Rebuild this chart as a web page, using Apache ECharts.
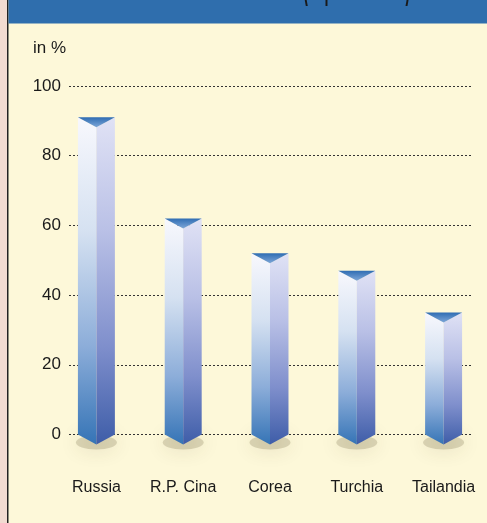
<!DOCTYPE html>
<html>
<head>
    <meta charset="UTF-8">
    <title>in %</title>
    <script src="https://cdn.jsdelivr.net/npm/echarts@6/dist/echarts.min.js"></script>
    <style>
        html, body { margin: 0; padding: 0; background: #fdf8d9; }
        #main { width: 487px; height: 523px; }
    </style>
</head>
<body>
<div id="main"></div>
<script>
    // dati
    var paesi = ['Russia', 'R.P. Cina', 'Corea', 'Turchia', 'Tailandia'];
    var valori = [91, 62, 52, 47, 35];
    var tickY = [0, 20, 40, 60, 80, 100];

    var myChart = echarts.init(document.getElementById('main'));

    // colori delle facce del prisma
    var faceLeft = new echarts.graphic.LinearGradient(0, 0, 0, 1, [
        { offset: 0, color: '#f8f8fd' },
        { offset: 0.35, color: '#d5e1f1' },
        { offset: 0.7, color: '#8cadd9' },
        { offset: 1, color: '#3574b6' }
    ]);
    var faceRight = new echarts.graphic.LinearGradient(0, 0, 0, 1, [
        { offset: 0, color: '#e0e2f5' },
        { offset: 0.35, color: '#b9c0e6' },
        { offset: 0.7, color: '#7f8fcc' },
        { offset: 1, color: '#3e5da8' }
    ]);
    var cap = new echarts.graphic.LinearGradient(0, 0, 0, 1, [
        { offset: 0, color: '#2f6db3' },
        { offset: 1, color: '#7da6d8' }
    ]);

    function renderPrisma(params, api) {
        var top = api.coord([api.value(0), api.value(1)]);
        var base = api.coord([api.value(0), 0]);
        var half = api.size([1, 0])[0] * 0.213;
        var d = 10;
        var cx = top[0];
        return {
            type: 'group',
            children: [
                {
                    type: 'ellipse',
                    shape: { cx: cx, cy: base[1] + 8, rx: half + 2, ry: 7 },
                    style: { fill: 'rgba(90,80,40,0.2)', shadowBlur: 20, shadowColor: 'rgba(70,60,30,0.7)' },
                    z2: 0
                },
                {
                    type: 'polygon',
                    shape: { points: [[cx - half, top[1]], [cx, top[1] + d], [cx, base[1] + d], [cx - half, base[1]]] },
                    style: { fill: faceLeft },
                    z2: 1
                },
                {
                    type: 'polygon',
                    shape: { points: [[cx, top[1] + d], [cx + half, top[1]], [cx + half, base[1]], [cx, base[1] + d]] },
                    style: { fill: faceRight },
                    z2: 1
                },
                {
                    type: 'polygon',
                    shape: { points: [[cx - half, top[1]], [cx + half, top[1]], [cx, top[1] + d]] },
                    style: { fill: cap },
                    z2: 2
                }
            ]
        };
    }

    var option = {
        backgroundColor: '#fdf8d9',
        animation: false,
        textStyle: { fontFamily: 'Liberation Sans' },
        graphic: [
            { type: 'rect', shape: { x: 0, y: 0, width: 7, height: 523 }, style: { fill: '#f2dbd1' }, z: -10 },
            { type: 'rect', shape: { x: 7, y: 0, width: 1.5, height: 523 }, style: { fill: '#222' }, z: -9 },
            { type: 'rect', shape: { x: 8.5, y: 0, width: 479, height: 23.5 }, style: { fill: '#2f6ead' }, z: -9 },
            {
                type: 'text', x: 303, y: 7, scaleX: 0.3,
                style: { text: '(in percentuale)', font: 'bold 48px Liberation Sans', fill: '#1a1a1a', verticalAlign: 'bottom' },
                z: -8
            },
            {
                type: 'text', x: 33, y: 40,
                style: { text: 'in %', font: '17px Liberation Sans', fill: '#1a1a1a' }
            }
        ],
        grid: [
            { left: 69, right: 16, top: 86, bottom: 88.5 },
            { left: 53, width: 435, top: 86, bottom: 88.5 }
        ],
        xAxis: [
            { gridIndex: 0, type: 'value', show: false },
            {
                gridIndex: 1, type: 'category', data: paesi,
                axisLine: { show: false }, axisTick: { show: false },
                axisLabel: { margin: 45, fontSize: 16, color: '#1a1a1a' }
            }
        ],
        yAxis: [
            {
                gridIndex: 0, type: 'value', min: tickY[0], max: tickY[tickY.length - 1], interval: 20,
                axisLine: { show: false }, axisTick: { show: false },
                axisLabel: { margin: 8, fontSize: 17, color: '#1a1a1a' },
                splitLine: { lineStyle: { type: [2, 2], color: '#333', width: 1 } }
            },
            { gridIndex: 1, type: 'value', min: 0, max: 100, show: false }
        ],
        series: [
            {
                type: 'custom',
                xAxisIndex: 1,
                yAxisIndex: 1,
                renderItem: renderPrisma,
                data: valori.map(function (v, i) { return [i, v]; })
            }
        ]
    };

    myChart.setOption(option);
</script>
</body>
</html>
